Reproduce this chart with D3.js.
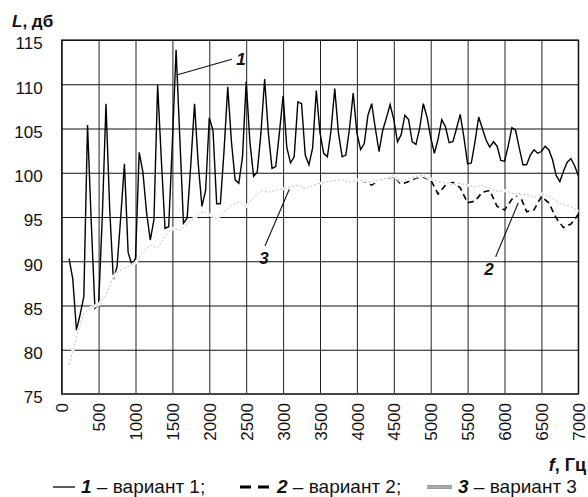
<!DOCTYPE html>
<html>
<head>
<meta charset="utf-8">
<script src="https://cdn.jsdelivr.net/npm/d3@7"></script>
<style>
  html, body { margin: 0; padding: 0; background: #fff; }
  svg { display: block; font-family: "Liberation Sans", Arial, Helvetica, sans-serif; }
</style>
</head>
<body>
<svg id="chart" width="588" height="497"></svg>
<script>
// Frequency grids (Hz) on which the levels were measured
const freq1 = d3.range(100, 7001, 50);
const freq23 = d3.range(100, 7001, 100);

// Variant 1 — sound level, dB (50 Hz step, 100…7000 Hz)
const level1 = [
  90.3, 88.0, 82.2, 84.0, 86.0, 105.4, 94.5, 84.7, 85.1, 95.0,
  107.8, 96.0, 87.9, 89.4, 95.0, 101.0, 91.0, 89.6, 90.3, 102.3,
  100.1, 95.5, 92.4, 94.7, 109.9, 101.5, 93.7, 93.9, 103.5, 113.9,
  104.0, 94.3, 94.9, 101.0, 107.8, 101.0, 96.2, 98.0, 106.2, 104.8,
  96.5, 96.5, 102.5, 109.7, 103.5, 99.2, 98.8, 101.8, 110.3, 103.5,
  99.6, 100.1, 104.5, 110.6, 104.5, 100.5, 100.7, 104.5, 108.7, 102.9,
  101.1, 101.8, 108.0, 107.8, 102.0, 100.9, 102.8, 109.3, 104.5, 102.2,
  101.8, 104.8, 109.5, 104.5, 101.8, 102.0, 105.0, 109.0, 104.5, 102.6,
  103.3, 106.5, 107.8, 105.0, 102.4, 104.8, 106.2, 107.7, 106.0, 103.5,
  104.3, 106.5, 106.0, 103.5, 103.2, 105.0, 107.8, 106.3, 104.0, 102.2,
  103.8, 106.0, 105.2, 103.4, 103.5, 105.0, 106.6, 104.0, 101.0, 101.1,
  103.5, 106.3, 105.0, 103.7, 102.9, 103.5, 103.0, 101.4, 101.3, 103.0,
  105.1, 104.8, 102.8, 100.9, 100.9, 102.0, 102.6, 102.2, 102.4, 103.0,
  102.6, 101.5, 99.7, 99.0, 100.2, 101.2, 101.6, 100.8, 99.7
];

// Variant 2 — sound level, dB (100 Hz step)
const level2 = [
  78.3, 81.5, 84.1, 84.8, 85.1, 86.2, 88.3, 89.0, 89.4, 89.8,
  91.1, 91.8, 91.5, 92.8, 93.7, 93.5, 94.2, 94.9, 95.6, 95.3,
  94.8, 95.6, 96.3, 96.7, 96.2, 97.2, 98.0, 97.8, 98.0, 98.2,
  98.4, 98.6, 98.2, 98.6, 98.8, 99.0, 99.1, 99.2, 98.9, 99.2,
  99.0, 98.6, 99.2, 99.3, 99.6, 98.7, 99.0, 99.4, 99.5, 99.2,
  97.6, 98.6, 98.9, 98.3, 96.6, 96.8, 97.8, 98.0, 96.2, 95.8,
  97.0, 97.6, 95.6, 95.8, 97.3, 96.6, 94.9, 93.8, 94.2, 95.3
];

// Variant 3 — sound level, dB (100 Hz step)
const level3 = [
  78.3, 81.5, 84.1, 84.8, 85.1, 86.2, 88.3, 89.0, 89.4, 89.8,
  91.1, 91.8, 91.5, 92.8, 93.7, 93.5, 94.2, 94.9, 95.6, 95.3,
  94.8, 95.6, 96.3, 96.7, 96.2, 97.2, 98.0, 97.8, 98.0, 98.2,
  98.4, 98.6, 98.2, 98.6, 98.8, 99.0, 99.1, 99.2, 98.9, 99.2,
  99.1, 98.9, 99.2, 99.4, 99.7, 99.0, 99.3, 99.6, 99.7, 99.3,
  99.0, 98.9, 98.6, 98.8, 98.6, 98.4, 98.6, 98.2, 97.9, 98.0,
  97.7, 97.5, 97.6, 97.2, 97.6, 97.4, 96.8, 96.4, 96.2, 95.6
];

// Axis ticks
const xTicks = [0, 500, 1000, 1500, 2000, 2500, 3000, 3500, 4000, 4500, 5000, 5500, 6000, 6500, 7000];
const yTicks = [75, 80, 85, 90, 95, 100, 105, 110, 115];

// Texts
const yTitle = ["L", ", дб"];
const xTitle = ["f", ", Гц"];
const legendItems = [
  { key: "1", text: " – вариант 1;" },
  { key: "2", text: " – вариант 2;" },
  { key: "3", text: " – вариант 3" }
];

const svg = d3.select("#chart");
const plot = { left: 61.7, right: 578.3, top: 40, bottom: 394 };

const x = d3.scaleLinear().domain([0, 7000]).range([plot.left, plot.right]);
const y = d3.scaleLinear().domain([75, 115]).range([plot.bottom, plot.top]);

// Horizontal grid + y labels
const yAxis = svg.append("g")
  .attr("transform", `translate(${plot.left},0)`)
  .call(d3.axisLeft(y).tickValues(yTicks).tickFormat(d3.format("d"))
    .tickSize(-(plot.right - plot.left)).tickPadding(19));
yAxis.select(".domain").remove();
yAxis.selectAll(".tick line").attr("stroke", "#111").attr("stroke-width", 1.1);
yAxis.selectAll(".tick text")
  .attr("font-size", 17).attr("fill", "#111")
  .attr("font-family", "Liberation Sans, Arial, sans-serif")
  .attr("dy", "0.52em");

// Vertical grid + rotated x labels
const xAxis = svg.append("g")
  .attr("transform", `translate(0,${plot.bottom})`)
  .call(d3.axisBottom(x).tickValues(xTicks).tickFormat(d3.format("d"))
    .tickSize(-(plot.bottom - plot.top)).tickPadding(0));
xAxis.select(".domain").remove();
xAxis.selectAll(".tick line").attr("stroke", "#222").attr("stroke-width", 1);
xAxis.selectAll(".tick text")
  .attr("font-size", 17).attr("fill", "#111")
  .attr("font-family", "Liberation Sans, Arial, sans-serif")
  .attr("text-anchor", "end")
  .attr("transform", "translate(0,9) rotate(-90)")
  .attr("x", 0).attr("y", 0).attr("dy", "0.36em");

// Plot frame
svg.append("rect")
  .attr("x", plot.left).attr("y", plot.top)
  .attr("width", plot.right - plot.left).attr("height", plot.bottom - plot.top)
  .attr("fill", "none").attr("stroke", "#111").attr("stroke-width", 1.2);
svg.append("line")
  .attr("x1", plot.left).attr("x2", plot.right)
  .attr("y1", plot.bottom).attr("y2", plot.bottom)
  .attr("stroke", "#444").attr("stroke-width", 2);

const line = d3.line().x(d => x(d[0])).y(d => y(d[1]));
const pts1 = freq1.map((f, i) => [f, level1[i]]);
const pts2 = freq23.map((f, i) => [f, level2[i]]);
const pts3 = freq23.map((f, i) => [f, level3[i]]);

// Variant 1 — solid black
svg.append("path").datum(pts1).attr("d", line)
  .attr("fill", "none").attr("stroke", "#000").attr("stroke-width", 1.4)
  .attr("stroke-linejoin", "miter");

// Variant 2 — black dashes
svg.append("path").datum(pts2).attr("d", line)
  .attr("fill", "none").attr("stroke", "#000").attr("stroke-width", 1.6)
  .attr("stroke-dasharray", "6,4");

// Variant 3 — pale grey line with a white edge
svg.append("path").datum(pts3).attr("d", line)
  .attr("fill", "none").attr("stroke", "#fff").attr("stroke-width", 3);
svg.append("path").datum(pts3).attr("d", line)
  .attr("fill", "none").attr("stroke", "#bdbdbd").attr("stroke-width", 1)
  .attr("stroke-dasharray", "2,2");

// Callouts
const callouts = [
  { label: "1", from: [176.7, 75], to: [231.7, 59.3], at: [241, 65] },
  { label: "3", from: [289.3, 189.3], to: [265, 246], at: [264, 264] },
  { label: "2", from: [518.3, 202.7], to: [495.7, 256.7], at: [489, 275] }
];
callouts.forEach(c => {
  svg.append("line")
    .attr("x1", c.from[0]).attr("y1", c.from[1])
    .attr("x2", c.to[0]).attr("y2", c.to[1])
    .attr("stroke", "#111").attr("stroke-width", 1.1);
  svg.append("text")
    .attr("x", c.at[0]).attr("y", c.at[1])
    .attr("text-anchor", "middle")
    .attr("font-size", 17).attr("font-weight", "bold").attr("font-style", "italic")
    .attr("fill", "#111").text(c.label);
});

// Axis titles
const yt = svg.append("text").attr("x", 12).attr("y", 27)
  .attr("font-size", 17).attr("font-weight", "bold").attr("fill", "#111");
yt.append("tspan").attr("font-style", "italic").text(yTitle[0]);
yt.append("tspan").text(yTitle[1]);

const xt = svg.append("text").attr("x", 586).attr("y", 471)
  .attr("text-anchor", "end")
  .attr("font-size", 18).attr("font-weight", "bold").attr("fill", "#111");
xt.append("tspan").attr("font-style", "italic").text(xTitle[0]);
xt.append("tspan").text(xTitle[1]);

// Legend
const legY = 487;
const lg = svg.append("g");
lg.append("line").attr("x1", 53).attr("x2", 75).attr("y1", legY).attr("y2", legY)
  .attr("stroke", "#000").attr("stroke-width", 1.3);
lg.append("line").attr("x1", 240).attr("x2", 270).attr("y1", legY).attr("y2", legY)
  .attr("stroke", "#000").attr("stroke-width", 3).attr("stroke-dasharray", "11,7");
lg.append("line").attr("x1", 427).attr("x2", 452).attr("y1", legY).attr("y2", legY)
  .attr("stroke", "#9a9a9a").attr("stroke-width", 4);
lg.append("line").attr("x1", 427).attr("x2", 452).attr("y1", legY).attr("y2", legY)
  .attr("stroke", "#d0d0d0").attr("stroke-width", 1).attr("stroke-dasharray", "1.5,1");

const legX = [81, 277, 458];
legendItems.forEach((it, i) => {
  const t = lg.append("text").attr("x", legX[i]).attr("y", legY + 6)
    .attr("font-size", 19).attr("fill", "#111");
  t.append("tspan").attr("font-weight", "bold").attr("font-style", "italic").text(it.key);
  t.append("tspan").text(it.text);
});
</script>
</body>
</html>
